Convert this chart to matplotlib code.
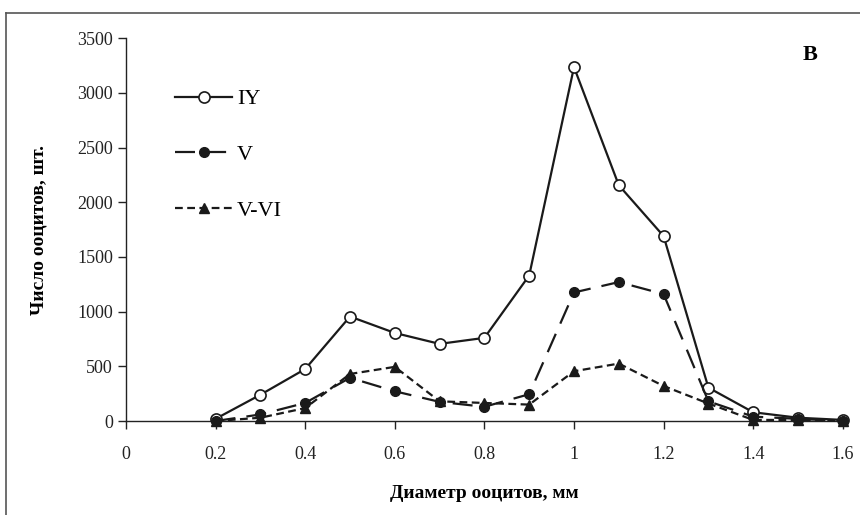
import matplotlib.pyplot as plt
from matplotlib.lines import Line2D

plt.rcParams['font.family'] = ['Liberation Serif', 'DejaVu Serif']

diameter = [0.2, 0.3, 0.4, 0.5, 0.6, 0.7, 0.8, 0.9, 1.0, 1.1, 1.2, 1.3, 1.4, 1.5, 1.6]
stage_iy = [20, 240, 475, 955, 805, 705, 760, 1330, 3235, 2155, 1690, 305, 80, 30, 10]
stage_v = [0, 60, 165, 395, 272, 175, 130, 245, 1175, 1270, 1160, 180, 40, 20, 0]
stage_v_vi = [0, 30, 118, 430, 495, 180, 165, 150, 455, 525, 320, 160, 10, 10, 0]

x_ticks = [0, 0.2, 0.4, 0.6, 0.8, 1.0, 1.2, 1.4, 1.6]
x_tick_labels = ['0', '0.2', '0.4', '0.6', '0.8', '1', '1.2', '1.4', '1.6']
y_ticks = list(range(0, 3501, 500))

fig = plt.figure(figsize=(8.6, 5.15), dpi=100)
ax = fig.add_axes([0.1465, 0.1825, 0.8335, 0.7435])

ax.plot(diameter, stage_iy, color='#1a1a1a', lw=1.6, ls='-', marker='o', ms=8,
        mfc='white', mec='#1a1a1a', mew=1.2, label='IY', zorder=3)
ax.plot(diameter, stage_v, color='#1a1a1a', lw=1.6, ls=(0, (9, 5)), marker='o', ms=7,
        mfc='#1a1a1a', mec='#1a1a1a', label='V', zorder=4)
ax.plot(diameter, stage_v_vi, color='#1a1a1a', lw=1.6, ls=(0, (3.5, 2)), marker='^', ms=7,
        mfc='#1a1a1a', mec='#1a1a1a', label='V-VI', zorder=5)

ax.set_xlim(0, 1.6)
ax.set_ylim(0, 3500)
ax.set_xticks(x_ticks)
ax.set_xticklabels(x_tick_labels)
ax.set_yticks(y_ticks)
ax.tick_params(axis='both', direction='out', length=6, width=1, labelsize=13, colors='#222')
ax.tick_params(axis='x', pad=12)
ax.spines['top'].set_visible(False)
ax.spines['right'].set_visible(False)
for s in ['left', 'bottom']:
    ax.spines[s].set_color('#222')
    ax.spines[s].set_linewidth(1)
for line in ax.lines:
    line.set_clip_on(False)

ax.set_xlabel('Диаметр ооцитов, мм', fontsize=14, fontweight='bold', labelpad=16)
ax.set_ylabel('Число ооцитов, шт.', fontsize=14, fontweight='bold', labelpad=21)

ax.legend(loc='upper left', bbox_to_anchor=(0.04, 0.92), frameon=False, fontsize=16,
          labelspacing=1.58, handlelength=2.6, handletextpad=0.2)

ax.text(0.955, 0.955, 'В', transform=ax.transAxes, fontsize=16, fontweight='bold',
        ha='center', va='center')

# outer frame around the figure
fig.add_artist(Line2D([6 / 860, 6 / 860], [0, 1 - 13 / 515], transform=fig.transFigure,
                      color='#555', lw=1.2))
fig.add_artist(Line2D([6 / 860, 1], [1 - 13 / 515, 1 - 13 / 515], transform=fig.transFigure,
                      color='#555', lw=1.2))

fig.savefig('out.png', dpi=100)
